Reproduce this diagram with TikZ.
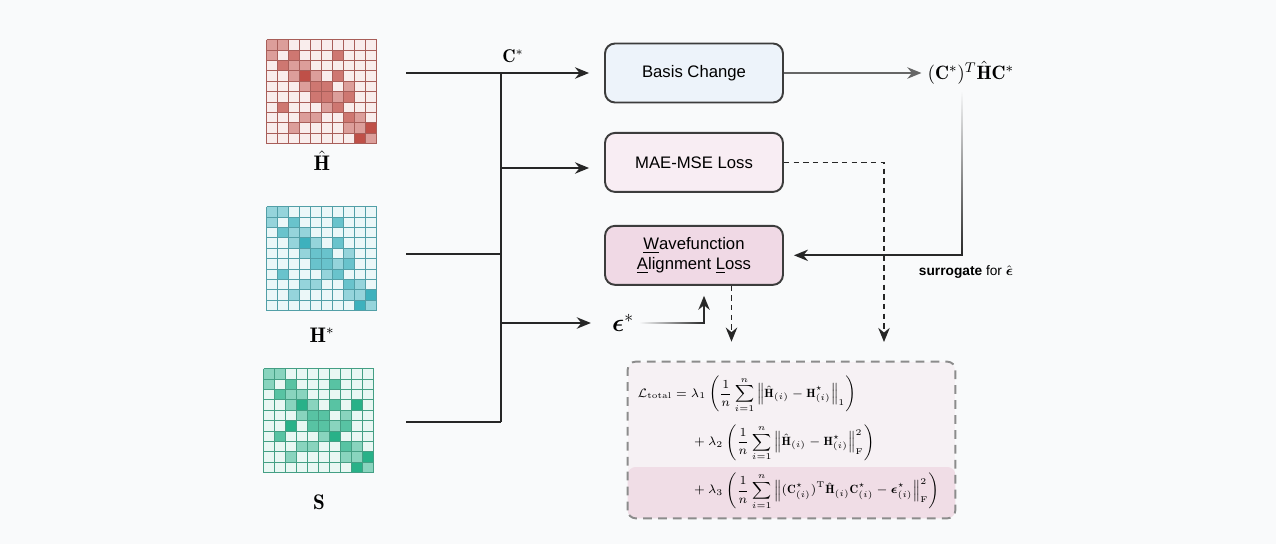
\documentclass[tikz,border=0pt]{standalone}
\definecolor{pagebg}{RGB}{249,250,251}
\definecolor{hamred}{RGB}{190,76,68}
\definecolor{hamteal}{RGB}{58,176,188}
\definecolor{ovlgreen}{RGB}{36,176,134}
\definecolor{boxline}{RGB}{60,60,60}
\definecolor{basisblue}{RGB}{237,243,250}
\definecolor{maepink}{RGB}{248,237,243}
\definecolor{wavepink}{RGB}{240,217,229}
\definecolor{lossfill}{RGB}{246,241,244}
\definecolor{losshl}{RGB}{240,221,230}
\definecolor{dashgray}{RGB}{140,140,140}
\usepackage{amsmath,amssymb}
\usepackage{fontspec}
\setsansfont{Liberation Sans}
\usepackage{tikz}
\usetikzlibrary{positioning,arrows.meta,fadings}

\tikzfading[name=fadetop, top color=transparent!100, middle color=transparent!0, bottom color=transparent!0]
\tikzfading[name=fadeleft, left color=transparent!100, middle color=transparent!0, right color=transparent!0]

% cell intensities 0..4, row by row
\newcommand{\hamcells}{{2,2,0,0,0,0,0,0,0,0},{2,0,3,0,0,0,3,0,0,0},{0,3,2,2,0,0,0,0,0,0},
  {0,0,2,4,2,0,3,0,0,0},{0,0,0,2,3,3,0,2,0,0},{0,0,0,0,3,3,2,3,0,0},{0,3,0,0,0,2,3,0,0,0},
  {0,0,0,2,2,0,0,3,2,0},{0,0,2,0,0,0,0,2,2,4},{0,0,0,0,0,0,0,0,4,2}}
\newcommand{\ovlcells}{{2,2,0,0,0,0,0,0,0,0},{2,0,3,0,0,0,3,0,0,0},{0,3,2,2,0,0,0,0,0,0},
  {0,0,2,4,2,0,3,0,4,0},{0,0,0,2,3,3,0,2,0,0},{0,0,4,0,3,3,2,3,0,0},{0,3,0,0,0,2,4,0,0,0},
  {0,0,0,2,2,0,0,3,2,0},{0,0,2,0,0,0,0,2,2,4},{0,0,0,0,0,0,0,0,4,2}}

\newcommand{\heatgrid}[3]{%
  \begin{scope}[shift={(#1.north west)}]
    \foreach \cells [count=\r from 0] in #3 {
      \foreach \v [count=\c from 0] in \cells {
        \pgfmathtruncatemacro{\pc}{10+22*\v}
        \fill[#2!\pc!white] (\c*11,\r*10.4) rectangle ++(11,10.4);
      }
    }
    \foreach \i in {0,...,10} {
      \draw[#2!65!gray, line width=0.5pt] (\i*11,0) -- (\i*11,104);
      \draw[#2!65!gray, line width=0.5pt] (0,\i*10.4) -- (110,\i*10.4);
    }
  \end{scope}}

\begin{document}
\begin{tikzpicture}[x=0.02cm, y=-0.02cm,
        box/.style={rectangle, draw=boxline, line width=1.1pt,
                    minimum width=3.56cm, minimum height=1.18cm,
                    rounded corners=0.2cm, align=center,
                    font=\sffamily\fontsize{9.5}{11.3}\selectfont},
        matnode/.style={minimum width=2.2cm, minimum height=2.08cm, inner sep=0pt},
        matlabel/.style={font=\large},
        mathlabel/.style={font=\fontsize{11}{13}\selectfont},
        lossbox/.style={minimum width=6.54cm, minimum height=3.12cm, inner sep=0pt,
                        rounded corners=0.16cm, fill=lossfill},
        line/.style={line width=1pt, black!85},
        arrow/.style={->, >={Stealth[length=8pt,width=6.5pt]}, line width=1pt, black!85},
        dasharrow/.style={arrow, dash pattern=on 3pt off 2.5pt}
    ]
    \fill[pagebg] (0,0) rectangle (1276,544);
    \useasboundingbox (0,0) rectangle (1276,544);

    % matrices
    \node[matnode] (hhat)  at (322,92)  {};
    \node[matnode] (hstar) at (322,259) {};
    \node[matnode] (smat)  at (319,421) {};
    \heatgrid{hhat}{hamred}{\hamcells}
    \heatgrid{hstar}{hamteal}{\hamcells}
    \heatgrid{smat}{ovlgreen}{\ovlcells}
    \node[matlabel, below=0pt of hhat]    (hhatlab)  {$\hat{\mathbf{H}}$};
    \node[matlabel, below=0.2cm of hstar] (hstarlab) {$\mathbf{H}^*$};
    \node[matlabel, below=0.3cm of smat]  (slab)     {$\mathbf{S}$};

    % loss modules
    \node[box, fill=basisblue] (basis) at (694,73) {Basis Change};
    \node[box, fill=maepink, below=0.57cm of basis] (mae) {MAE-MSE Loss};
    \node[box, fill=wavepink, below=0.64cm of mae] (wave)
        {\underline{W}avefunction\\\underline{A}lignment \underline{L}oss};
    \node[mathlabel, right=2.75cm of basis] (ctrans) {$(\mathbf{C}^*)^T\hat{\mathbf{H}}\mathbf{C}^*$};
    \node[mathlabel, font=\fontsize{10.5}{12}\selectfont] (cstar) at (513,56) {$\mathbf{C}^*$};
    \node[font=\Large] (eps) at (623,323) {$\boldsymbol{\epsilon}^*$};
    \node[font=\sffamily\fontsize{7.8}{9}\selectfont] (surr) at (966,272)
        {\textbf{surrogate} for $\hat{\boldsymbol{\epsilon}}$};

    % total loss
    \node[lossbox] (loss) at (791.5,440) {};
    \coordinate (hltop) at (0,467);
    \fill[losshl, rounded corners=0.16cm] (loss.south west) rectangle (loss.east |- hltop);
    \draw[dashgray, line width=1.1pt, dash pattern=on 5pt off 3.5pt, rounded corners=0.16cm]
        (loss.south west) rectangle (loss.north east);
    \node[font=\fontsize{6.8}{8}\selectfont] (eq) at ([xshift=-0.06cm, yshift=-0.06cm]loss.center)
        {\setlength{\jot}{5.5pt}$\displaystyle\begin{aligned}
        \mathcal{L}_{\mathrm{total}} = {}& \lambda_1\left(\frac{1}{n}\sum_{i=1}^{n}\left\|\hat{\mathbf{H}}_{(i)}-\mathbf{H}^{\star}_{(i)}\right\|_1\right)\\
        & + \lambda_2\left(\frac{1}{n}\sum_{i=1}^{n}\left\|\hat{\mathbf{H}}_{(i)}-\mathbf{H}^{\star}_{(i)}\right\|_{\mathrm{F}}^2\right)\\
        & + \lambda_3\left(\frac{1}{n}\sum_{i=1}^{n}\left\|(\mathbf{C}^{\star}_{(i)})^{\mathrm{T}}\hat{\mathbf{H}}_{(i)}\mathbf{C}^{\star}_{(i)}-\boldsymbol{\epsilon}^{\star}_{(i)}\right\|_{\mathrm{F}}^2\right)
    \end{aligned}$};

    % bus
    \coordinate (hhatout)  at (406,73);
    \coordinate (hstarout) at (406,254);
    \coordinate (sout)     at (406,422);
    \coordinate (bustop)   at (501,73);
    \coordinate (busmae)   at (501,168);
    \coordinate (buseps)   at (501,323);
    \coordinate (busbot)   at (501,422);
    \coordinate (maedrop)  at (884,362);
    \coordinate (surtop)   at (962,92);

    \draw[line] (bustop) -- (busbot);
    \draw[line] (hstarout) -- (hstarout -| bustop);
    \draw[line] (sout) -- (busbot);
    \draw[arrow, shorten >=0.3cm] (hhatout) -- (basis.west);
    \draw[arrow, shorten >=0.3cm] (busmae) -- (busmae -| mae.west);
    \draw[arrow, shorten >=0.3cm] (buseps) -- (eps.west);
    \draw[arrow, black!60] (basis.east) -- (ctrans.west);
    \draw[arrow, shorten >=0.2cm, path fading=fadetop] (surtop) |- (wave.east);
    \draw[arrow, shorten >=0.2cm, path fading=fadeleft] (eps.east) -| ([xshift=0.2cm]wave.south);
    \draw[dasharrow, shorten >=0.4cm] (mae.east) -| (maedrop);
    \draw[dasharrow, shorten >=0.4cm] ([xshift=0.75cm]wave.south) -- ([xshift=0.75cm]wave.south |- loss.north);
\end{tikzpicture}
\end{document}
